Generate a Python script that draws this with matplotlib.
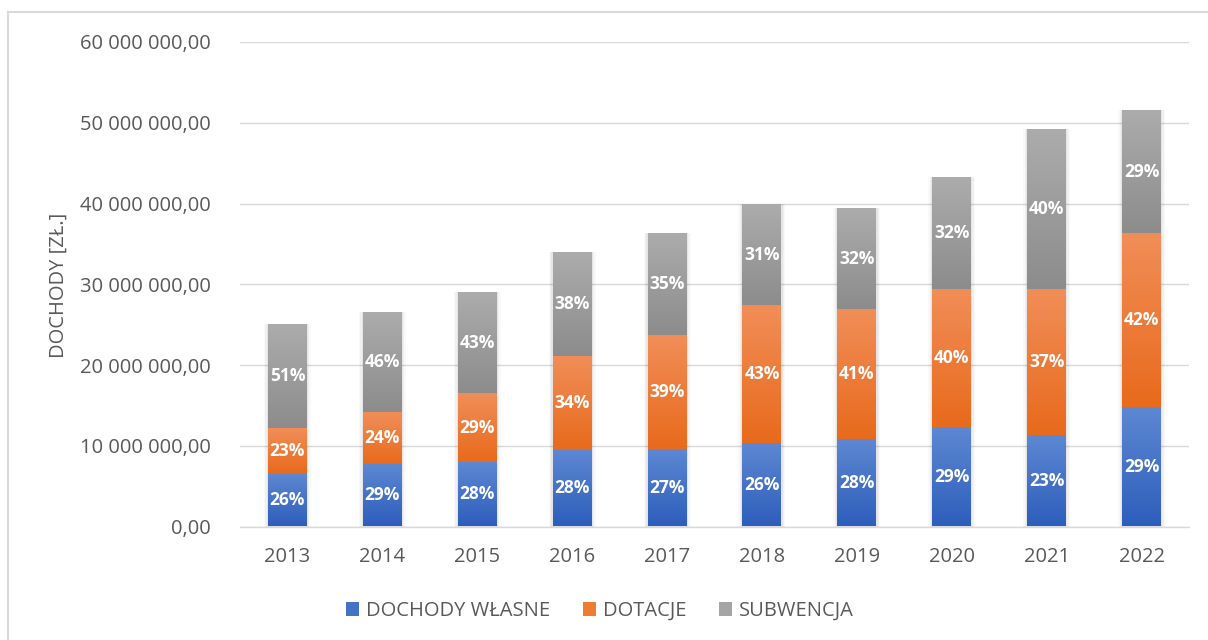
import numpy as np
import matplotlib
matplotlib.use('Agg')
import matplotlib.pyplot as plt
from matplotlib.colors import LinearSegmentedColormap
from matplotlib.patches import Rectangle
from matplotlib.ticker import FuncFormatter, MultipleLocator
from matplotlib.lines import Line2D

plt.rcParams['font.family'] = ['Open Sans', 'DejaVu Sans']

years = ['2013', '2014', '2015', '2016', '2017', '2018', '2019', '2020', '2021', '2022']
dochody_wlasne = [6.53e6, 7.77e6, 7.98e6, 9.50e6, 9.59e6, 10.33e6, 10.83e6, 12.28e6, 11.29e6, 14.75e6]
dotacje = [5.66e6, 6.40e6, 8.54e6, 11.60e6, 14.11e6, 17.08e6, 16.09e6, 17.11e6, 18.10e6, 21.57e6]
subwencja = [12.87e6, 12.33e6, 12.48e6, 12.87e6, 12.60e6, 12.49e6, 12.48e6, 13.81e6, 19.81e6, 15.18e6]
pct_wlasne = [26, 29, 28, 28, 27, 26, 28, 29, 23, 29]
pct_dotacje = [23, 24, 29, 34, 39, 43, 41, 40, 37, 42]
pct_subwencja = [51, 46, 43, 38, 35, 31, 32, 32, 40, 29]
series_names = ['DOCHODY WŁASNE', 'DOTACJE', 'SUBWENCJA']

W, H = 1208, 640
fig = plt.figure(figsize=(W / 100, H / 100), dpi=100)
ax = fig.add_axes([240 / W, 1 - 526.5 / H, 949 / W, 484.5 / H])

grads = [('#5E88D3', '#2D5EBB'), ('#F18E58', '#E86A1C'), ('#ACACAC', '#8C8C8C')]
legend_colors = ['#4472C4', '#ED7D31', '#A5A5A5']
series = [dochody_wlasne, dotacje, subwencja]
pcts = [pct_wlasne, pct_dotacje, pct_subwencja]

x = np.arange(len(years))
width = 0.41
bottom = np.zeros(len(years))
totals = np.sum(np.array(series), axis=0)

# soft shadow behind the stacks
px = 1 / 94.9
py = 60e6 / 484.5
for i in range(len(years)):
    for k, a in zip([4, 2.5, 1.2], [0.025, 0.035, 0.045]):
        ax.add_patch(Rectangle((x[i] - width / 2 - k * px, -k * py * 0.2), width + 2 * k * px,
                               totals[i] + k * py * 0.3, facecolor='#000000', alpha=a,
                               edgecolor='none', zorder=2))

grad = np.linspace(0, 1, 256).reshape(-1, 1)
for vals, pc, (ctop, cbot) in zip(series, pcts, grads):
    cmap = LinearSegmentedColormap.from_list('g', [cbot, ctop])
    bars = ax.bar(x, vals, width, bottom=bottom, color='none', edgecolor='none', zorder=3)
    for b, p in zip(bars, pc):
        x0, y0 = b.get_x(), b.get_y()
        ax.imshow(grad, extent=[x0, x0 + b.get_width(), y0, y0 + b.get_height()],
                  cmap=cmap, aspect='auto', origin='lower', zorder=3, interpolation='bilinear')
        ax.text(x0 + b.get_width() / 2, y0 + b.get_height() / 2, f'{p}%', ha='center',
                va='center', color='white', fontsize=12.5, fontweight='bold', zorder=5)
    bottom = bottom + np.array(vals)

ax.set_xlim(-0.5, len(years) - 0.5)
ax.set_ylim(0, 60e6)
ax.yaxis.set_major_locator(MultipleLocator(10e6))

def fmt(v, pos):
    s = f'{v:,.2f}'
    return s.replace(',', ' ').replace('.', ',')

ax.yaxis.set_major_formatter(FuncFormatter(fmt))
ax.set_xticks(x)
ax.set_xticklabels(years)
ax.grid(axis='y', color='#D9D9D9', linewidth=1.0, zorder=0)
ax.set_axisbelow(True)
for s in ['top', 'right', 'left']:
    ax.spines[s].set_visible(False)
ax.spines['bottom'].set_color('#D9D9D9')
ax.spines['bottom'].set_linewidth(1.0)
ax.tick_params(axis='both', length=0, labelsize=14.5, labelcolor='#595959')
ax.tick_params(axis='y', pad=21)
ax.tick_params(axis='x', pad=15)

fig.text(59 / W, 1 - 285 / H, 'DOCHODY [ZŁ.]', rotation=90, ha='center', va='center',
         fontsize=14.5, color='#595959')

handles = [Rectangle((0, 0), 1, 1, facecolor=c, edgecolor='none') for c in legend_colors]
fig.legend(handles, series_names, loc='center', bbox_to_anchor=(600 / W, 1 - 611 / H), ncol=3,
           frameon=False, fontsize=14.5, handlelength=0.65, handleheight=0.65, handletextpad=0.35,
           columnspacing=1.6, labelcolor='#595959')

# chart area border (left and top visible)
fig.add_artist(Line2D([8 / W, 8 / W], [0, 1 - 12 / H], color='#D9D9D9', linewidth=1.5,
                      transform=fig.transFigure))
fig.add_artist(Line2D([8 / W, 1], [1 - 12 / H, 1 - 12 / H], color='#D9D9D9', linewidth=1.5,
                      transform=fig.transFigure))

fig.savefig('out.png', dpi=100, facecolor='white')
